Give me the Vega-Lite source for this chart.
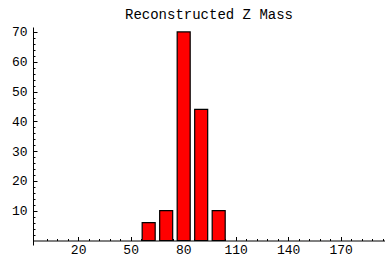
{
  "$schema": "https://vega.github.io/schema/vega-lite/v6.json",
  "autosize": "none",
  "width": 352,
  "height": 218,
  "padding": {"left": 33, "top": 27, "right": 0, "bottom": 12},
  "background": "white",
  "title": {"text": "Reconstructed Z Mass", "font": "Liberation Mono", "fontSize": 14, "fontWeight": "normal", "color": "black", "anchor": "middle", "baseline": "alphabetic", "offset": 8, "dy": 15},
  "config": {"view": {"stroke": null}},
  "data": {"values": [
    {"lo": 55, "hi": 65, "count": 6},
    {"lo": 65, "hi": 75, "count": 10},
    {"lo": 75, "hi": 85, "count": 70},
    {"lo": 85, "hi": 95, "count": 44},
    {"lo": 95, "hi": 105, "count": 10}
  ]},
  "resolve": {"axis": {"x": "independent", "y": "independent"}},
  "layer": [
    {
      "mark": {"type": "bar", "opacity": 0},
      "encoding": {
        "x": {"field": "lo", "type": "quantitative", "bin": "binned", "scale": {"domain": [-5.8, 195.3], "nice": false, "zero": false},
          "axis": {"orient": "bottom", "offset": -4.5, "values": [2, 8, 14, 26, 32, 38, 44, 56, 62, 68, 74, 86, 92, 98, 104, 116, 122, 128, 134, 146, 152, 158, 164, 176, 182, 188, 194], "labels": false, "domain": false, "grid": false, "tickSize": -2, "tickColor": "black", "tickWidth": 1, "title": null}},
        "x2": {"field": "hi"},
        "y": {"field": "count", "type": "quantitative", "scale": {"domain": [-1.51, 71.67], "nice": false, "zero": false},
          "axis": {"orient": "left", "values": [2, 4, 6, 8, 12, 14, 16, 18, 22, 24, 26, 28, 32, 34, 36, 38, 42, 44, 46, 48, 52, 54, 56, 58, 62, 64, 66, 68], "labels": false, "domain": false, "grid": false, "tickSize": -2, "tickColor": "black", "tickWidth": 1, "title": null}},
        "y2": {"datum": 0}
      }
    },
    {
      "mark": {"type": "bar", "color": "#ff0000", "stroke": "black", "strokeWidth": 1.2, "binSpacing": 4.5},
      "encoding": {
        "x": {"field": "lo", "type": "quantitative", "bin": "binned", "scale": {"domain": [-5.8, 195.3], "nice": false, "zero": false},
          "axis": {"orient": "bottom", "offset": -4.5, "values": [20, 50, 80, 110, 140, 170], "format": "d", "domain": true, "domainColor": "black", "domainWidth": 1, "grid": false, "tickSize": -4, "tickColor": "black", "tickWidth": 1, "labelPadding": 7, "labelFont": "Liberation Mono", "labelFontSize": 13, "labelColor": "black", "labelFlush": false, "labelOverlap": false, "title": null}},
        "x2": {"field": "hi"},
        "y": {"field": "count", "type": "quantitative", "scale": {"domain": [-1.51, 71.67], "nice": false, "zero": false},
          "axis": {"orient": "left", "values": [10, 20, 30, 40, 50, 60, 70], "format": "d", "domain": true, "domainColor": "black", "domainWidth": 1, "grid": false, "tickSize": -4, "tickColor": "black", "tickWidth": 1, "labelPadding": 10, "labelFont": "Liberation Mono", "labelFontSize": 13, "labelColor": "black", "labelOverlap": false, "title": null}},
        "y2": {"datum": 0}
      }
    }
  ]
}
